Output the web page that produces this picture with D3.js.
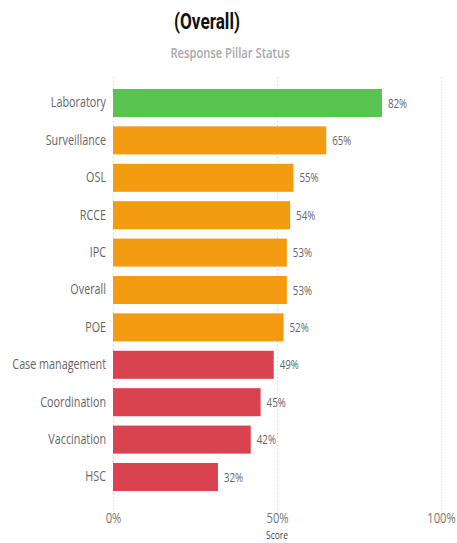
<!DOCTYPE html>
<html><head><meta charset="utf-8">
<script src="https://cdn.jsdelivr.net/npm/d3@7"></script>
<style>
html,body{margin:0;padding:0;background:#fff;}
svg{display:block;}
</style></head>
<body>
<svg id="chart" width="457" height="543"></svg>
<script>
const categories = ["Laboratory","Surveillance","OSL","RCCE","IPC","Overall","POE","Case management","Coordination","Vaccination","HSC"];
const scores = [82,65,55,54,53,53,52,49,45,42,32];
const xTicks = [0,50,100];
const titleText = "(Overall)";
const subtitleText = "Response Pillar Status";
const xAxisTitle = "Score";

const FONT = "'Open Sans','Noto Sans',sans-serif";
const TFONT = "Roboto,'Noto Sans',sans-serif";
const colorFor = v => v >= 80 ? "#58C44F" : (v >= 50 ? "#F39C12" : "#D9434F");

const svg = d3.select("#chart");
const x = d3.scaleLinear().domain([0,100]).range([113,441]);
const y = d3.scaleBand().domain(categories).range([84.3,495.7]).paddingInner(0.25).paddingOuter(0.125);

// narrow-font look: compress text horizontally around its anchor point
function squish(sel, k){
  sel.each(function(){
    const t = d3.select(this);
    const ax = +t.attr("x") || 0, ay = +t.attr("y") || 0;
    const prev = t.attr("transform") || "";
    t.attr("transform", `${prev} translate(${ax},${ay}) scale(${k},1) translate(${-ax},${-ay})`);
  });
}

// title
svg.append("text").attr("x",207).attr("y",29).attr("text-anchor","middle")
  .attr("font-family",TFONT).attr("font-weight","bold").attr("font-size",22).attr("fill","#111")
  .text(titleText).call(squish,0.78);
svg.append("text").attr("x",230).attr("y",58).attr("text-anchor","middle")
  .attr("font-family",FONT).attr("font-weight","600").attr("font-size",14).attr("fill","#aaa")
  .text(subtitleText).call(squish,0.8);

// gridlines
const grid = svg.append("g").attr("transform","translate(0,510)")
  .call(d3.axisBottom(x).tickValues(xTicks).tickSize(-434).tickFormat(""));
grid.select(".domain").remove();
grid.selectAll(".tick line").attr("stroke","#c8c8c8").attr("stroke-dasharray","1,3");

// bars
svg.append("g").selectAll("rect").data(categories).join("rect")
  .attr("x",x(0)).attr("y",d=>y(d))
  .attr("width",(d,i)=>x(scores[i])-x(0))
  .attr("height",y.bandwidth())
  .attr("fill",(d,i)=>colorFor(scores[i]));

// value labels
svg.append("g").selectAll("text").data(categories).join("text")
  .attr("x",(d,i)=>x(scores[i])+6).attr("y",d=>y(d)+y.bandwidth()/2)
  .attr("dy","0.35em").attr("font-family",FONT).attr("font-size",13).attr("fill","#666")
  .text((d,i)=>scores[i]+"%").call(squish,0.75);

// y axis
const ya = svg.append("g").attr("transform",`translate(${x(0)},0)`)
  .call(d3.axisLeft(y).tickSize(0).tickPadding(7));
ya.select(".domain").remove();
ya.selectAll("text").attr("font-family",FONT).attr("font-size",14).attr("fill","#666").call(squish,0.77);

// x axis
const xa = svg.append("g").attr("transform","translate(0,510)")
  .call(d3.axisBottom(x).tickValues(xTicks).tickSize(0).tickPadding(3).tickFormat(d=>d+"%"));
xa.select(".domain").remove();
xa.selectAll("text").attr("font-family",FONT).attr("font-size",14).attr("fill","#777").call(squish,0.8);

svg.append("text").attr("x",277).attr("y",539.5).attr("text-anchor","middle")
  .attr("font-family",FONT).attr("font-size",10.5).attr("fill","#444").text(xAxisTitle).call(squish,0.8);
</script>
</body></html>
